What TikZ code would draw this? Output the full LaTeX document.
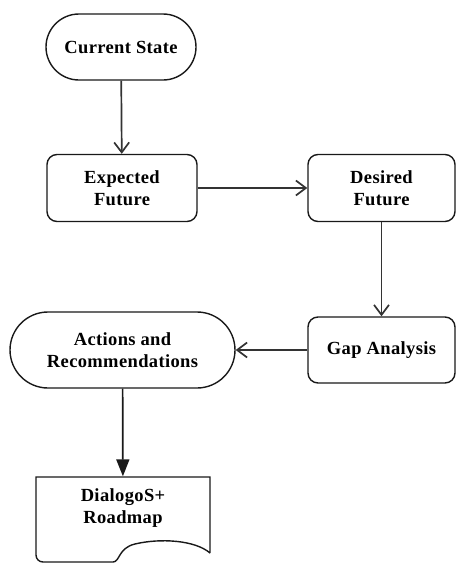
\documentclass[tikz,border=0pt]{standalone}
\usepackage{fontspec}
\setmainfont{Liberation Serif}[LetterSpace=2]
\usetikzlibrary{arrows.meta}
\tikzset{
	stepshape/.style={draw=black!90, line width=1.4pt, align=center, inner sep=0pt,
			font=\fontsize{18.5}{22}\selectfont\bfseries},
	terminal/.style={stepshape, rounded corners=#1},
	process/.style={stepshape, rounded corners=10pt},
	flow/.style={draw=black!80, line width=1.7pt, -{Straight Barb[length=10pt,width=15pt,line width=1.7pt]}},
	flowfilled/.style={draw=black!90, line width=1.7pt, -{Triangle[length=17pt,width=13pt]}}
}
\begin{document}
\begin{tikzpicture}[x=1pt,y=-1pt]
			\useasboundingbox (0,0) rectangle (456,563);
			% Start and end shapes
			\node[terminal=33pt, minimum width=150pt, minimum height=66pt] (current) at (121,47) {Current State};
			\node[terminal=38pt, minimum width=225pt, minimum height=76pt] (actions) at (122.5,350) {Actions and\\Recommendations};

			% Process boxes
			\node[process, minimum width=150pt, minimum height=67pt] (expected) at (122,188) {Expected\\Future};
			\node[process, minimum width=147pt, minimum height=67pt] (desired) at (381.5,188) {Desired\\Future};
			\node[process, minimum width=147pt, minimum height=66pt] (gap) at (381.5,350) {Gap Analysis};

			% Document shape with wavy bottom
			\node[stepshape, draw=none, minimum width=174pt, minimum height=62pt] (roadmap) at (123,508) {DialogoS+\\Roadmap};
			\draw[draw=black!90, line width=1.4pt] (210,553) -- (210,477) -- (36,477)
				[rounded corners=7pt] -- (36,562) -- (106,562) [sharp corners]
				.. controls (120,562) and (118,548) .. (135,544)
				.. controls (160,538) and (195,540) .. (210,553);

			% Arrows
			\draw[flow] (current) -- (expected);
			\draw[flow] (expected) -- (desired);
			\draw[flow] (desired) -- (gap);
			\draw[flow] (gap) -- (actions);
			\draw[flowfilled] (actions) -- (roadmap);
		\end{tikzpicture}
\end{document}
